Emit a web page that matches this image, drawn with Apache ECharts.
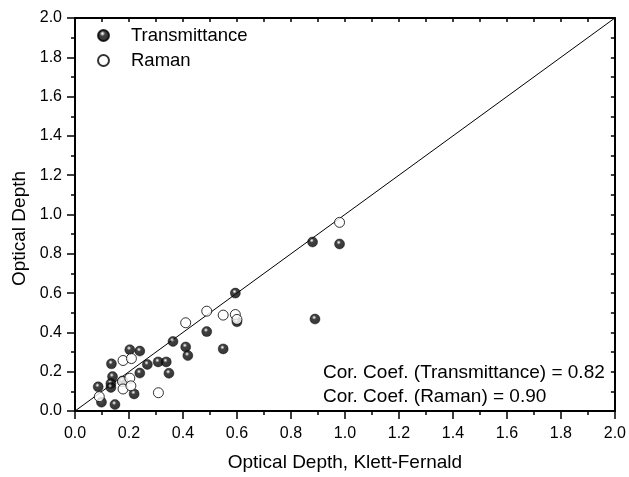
<!DOCTYPE html>
<html>
<head>
<meta charset="utf-8">
<script src="https://cdn.jsdelivr.net/npm/echarts@6/dist/echarts.min.js"></script>
<style>html,body{margin:0;padding:0;background:#fff}#c{width:629px;height:477px}</style>
</head>
<body>
<div id="c"></div>
<script>
// Data
var transmittance = [
  [0.086,0.123],[0.098,0.045],[0.148,0.033],[0.135,0.24],[0.139,0.175],[0.133,0.14],
  [0.133,0.12],[0.176,0.153],[0.203,0.312],[0.24,0.305],[0.219,0.087],[0.24,0.193],
  [0.268,0.237],[0.308,0.25],[0.338,0.25],[0.348,0.192],[0.363,0.354],[0.41,0.326],
  [0.418,0.282],[0.488,0.404],[0.549,0.316],[0.594,0.60],[0.60,0.454],[0.88,0.86],
  [0.98,0.85],[0.889,0.468]
];
var raman = [
  [0.09,0.073],[0.178,0.257],[0.209,0.267],[0.176,0.15],[0.178,0.112],[0.203,0.167],
  [0.207,0.128],[0.309,0.093],[0.41,0.449],[0.488,0.508],[0.549,0.488],[0.594,0.491],
  [0.60,0.466],[0.98,0.96]
];
var oneToOne = [[0,0],[2,2]];
var seriesNames = ['Transmittance','Raman'];
var annotations = ['Cor. Coef. (Transmittance) = 0.82','Cor. Coef. (Raman) = 0.90'];
var xName = 'Optical Depth, Klett-Fernald';
var yName = 'Optical Depth';

var FONT = 'Liberation Sans, Arial, sans-serif';
var chart = echarts.init(document.getElementById('c'), null, {renderer:'canvas'});
var fmt = function(v){ return v.toFixed(1); };
var sphere = {type:'radial', x:0.42, y:0.35, r:0.68, colorStops:[
  {offset:0,color:'#ffffff'},{offset:0.12,color:'#aaaaaa'},{offset:0.3,color:'#111111'},{offset:1,color:'#000000'}]};

function mainAxis(pos, name, pad, gap){
  return {
    type:'value', position:pos, min:0, max:2, interval:0.2,
    name:name, nameLocation:'middle', nameGap:gap,
    nameTextStyle:{fontFamily:FONT, fontSize:19, color:'#000', padding:pad},
    axisLine:{show:true, onZero:false, lineStyle:{color:'#000', width:2}},
    axisTick:{show:true, inside:false, length:8, lineStyle:{color:'#000', width:1.5}},
    minorTick:{show:true, splitNumber:2, length:4, lineStyle:{color:'#000', width:1.5}},
    axisLabel:{formatter:fmt, fontFamily:FONT, fontSize:16, color:'#000', margin:pos==='bottom'?15:13},
    splitLine:{show:false}, minorSplitLine:{show:false}
  };
}
function frameAxis(pos){
  return {
    type:'value', position:pos, min:0, max:2, interval:0.2,
    axisLine:{show:true, onZero:false, lineStyle:{color:'#000', width:2}},
    axisTick:{show:true, inside:true, length:4, lineStyle:{color:'#000', width:1.5}},
    minorTick:{show:true, splitNumber:2, length:4, lineStyle:{color:'#000', width:1.5}},
    axisLabel:{show:false}, splitLine:{show:false}
  };
}

var option = {
  animation:false,
  backgroundColor:'#fff',
  grid:{left:75, right:12, top:18, bottom:60, containLabel:false},
  xAxis:[mainAxis('bottom', xName, [0,0,0,0], 42), frameAxis('top')],
  yAxis:[mainAxis('left', yName, [0,28,0,0], 42), frameAxis('right')],
  legend:{
    show:true, left:92, top:21, orient:'vertical', itemGap:6,
    itemWidth:11, itemHeight:11,
    data:[{name:seriesNames[0], icon:'circle'},{name:seriesNames[1], icon:'circle'}],
    textStyle:{fontFamily:FONT, fontSize:18.5, color:'#000', padding:[0,0,0,17]}
  },
  graphic:[
    {type:'text', left:323, top:363, style:{text:annotations[0], font:'19px '+FONT, fill:'#000'}},
    {type:'text', left:323, top:387, style:{text:annotations[1], font:'19px '+FONT, fill:'#000'}}
  ],
  series:[
    {type:'line', data:oneToOne, showSymbol:false, symbol:'none', silent:true,
     lineStyle:{color:'#000', width:1}, z:1},
    {name:seriesNames[0], type:'scatter', data:transmittance, symbol:'circle', symbolSize:10,
     itemStyle:{color:sphere, borderColor:'#000', borderWidth:0.5}, z:3},
    {name:seriesNames[1], type:'scatter', data:raman, symbol:'circle', symbolSize:10,
     itemStyle:{color:'#fff', borderColor:'#000', borderWidth:1}, z:4}
  ]
};
chart.setOption(option);
</script>
</body>
</html>
